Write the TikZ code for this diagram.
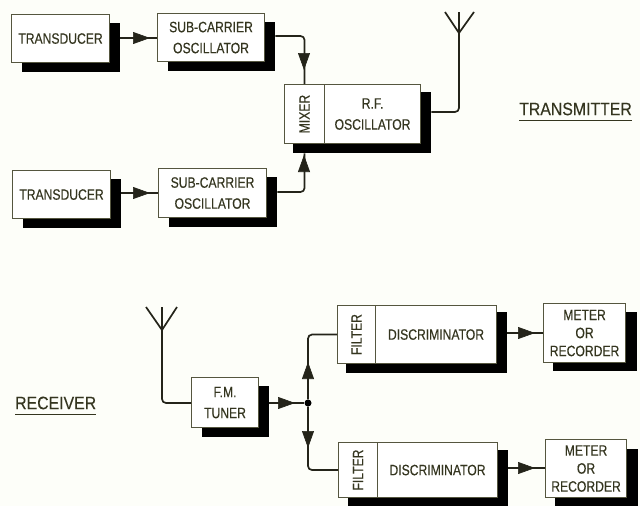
\documentclass[tikz,border=0pt]{standalone}
\usepackage{fontspec}
\setmainfont[FakeStretch=0.81,FakeBold=0.35]{Liberation Sans}
\newfontfamily\titlefont[FakeStretch=0.88,FakeBold=0.2]{Liberation Sans}
\usetikzlibrary{arrows.meta,calc}
\definecolor{paper}{HTML}{FDFEF9}
\definecolor{edge}{HTML}{55563F}
\definecolor{ink}{HTML}{34351F}
\definecolor{wire}{HTML}{24241A}
\tikzset{
  blockbox/.style={draw=edge,line width=1.1pt,fill=white,inner sep=0pt,align=center,text=ink,font=\fontsize{15}{21}\selectfont},
  shadowbox/.style={fill=black,draw=none,inner sep=0pt},
  conn/.style={draw=wire,line width=1.7pt,rounded corners=4pt},
  headonly/.style={draw=wire,line width=0.6pt,-{Triangle[length=17pt,width=12pt]}},
  antenna/.style={draw=wire,line width=1.7pt,line join=miter},
  title/.style={text=ink,inner sep=0pt,font=\titlefont\fontsize{18}{20}\selectfont},
  rule/.style={draw=ink,line width=1pt},
  junction/.style={circle,fill=black,inner sep=0pt,minimum size=7pt}
}
% name, x1,y1,x2,y2, text
\newcommand{\blk}[6]{%
  \node[shadowbox,minimum width=#4pt-#2pt,minimum height=#5pt-#3pt+1pt,anchor=north west] (#1s) at (#2+11,#3+9) {};
  \node[blockbox,minimum width=#4pt-#2pt,minimum height=#5pt-#3pt,anchor=north west] (#1) at (#2,#3) {#6};
}
% arrowhead whose tip is at the point given, running from the base given
\newcommand{\hd}[2]{\draw[headonly] (#1) -- (#2);}
\begin{document}
\begin{tikzpicture}[x=1pt,y=-1pt]
\useasboundingbox[fill=paper] (0,0) rectangle (640,506);
% transmitter
\blk{ta}{11}{14}{109}{62}{TRANSDUCER}
\blk{sa}{157}{13}{264}{61}{SUB-CARRIER\\OSCILLATOR}
\blk{tb}{12}{170}{110}{218}{TRANSDUCER}
\blk{sb}{158}{168}{266}{217}{SUB-CARRIER\\OSCILLATOR}
\node[shadowbox,minimum width=138pt,minimum height=61pt,anchor=north west] (rfs) at (293,92) {};
\node[blockbox,minimum width=40pt,minimum height=59pt,anchor=north west] (mix) at (284,84) {\rotatebox{90}{MIXER}};
\node[blockbox,minimum width=96pt,minimum height=59pt,anchor=north west] (rf) at (324,84) {R.F.\\OSCILLATOR};
\coordinate (h1) at (150,38);
\coordinate (b1) at (132,38);
\draw[conn] (tas.east |- h1) -- (sa.west |- h1);
\hd{b1}{h1}
\coordinate (h2) at (150,193);
\coordinate (b2) at (132,193);
\draw[conn] (tbs.east |- h2) -- (sb.west |- h2);
\hd{b2}{h2}
\coordinate (h3) at (304,70);
\coordinate (b3) at (304,52);
\draw[conn] (sas.east |- 0,36) -| (mix.north);
\hd{b3}{h3}
\coordinate (h4) at (304,155);
\coordinate (b4) at (304,173);
\draw[conn] (sbs.east |- 0,192) -| (rfs.south -| mix.south);
\hd{b4}{h4}
\coordinate (ant) at (459,33);
\coordinate (antl) at (445,12);
\coordinate (antr) at (474,12);
\coordinate (antt) at (459,12);
\draw[antenna] (antl) -- (ant) -- (antr);
\draw[antenna] (antt) -- (ant);
\draw[conn] (ant) |- (rfs.east |- 0,112);
\node[title,anchor=west] (txl) at (519,109) {TRANSMITTER};
\draw[rule] (txl.west |- 0,120) -- (txl.east |- 0,120);
% receiver
\blk{fm}{191}{377}{258}{427}{F.M.\\TUNER}
\node[shadowbox,minimum width=161pt,minimum height=61pt,anchor=north west] (das) at (346,312) {};
\node[blockbox,minimum width=38pt,minimum height=58pt,anchor=north west] (fa) at (337,305) {\rotatebox{90}{FILTER}};
\node[blockbox,minimum width=121pt,minimum height=58pt,anchor=north west] (da) at (375,305) {DISCRIMINATOR};
\node[shadowbox,minimum width=160pt,minimum height=56pt,anchor=north west] (dbs) at (348,450) {};
\node[blockbox,minimum width=39pt,minimum height=55pt,anchor=north west] (fb) at (338,442) {\rotatebox{90}{FILTER}};
\node[blockbox,minimum width=120pt,minimum height=55pt,anchor=north west] (db) at (377,442) {DISCRIMINATOR};
\tikzset{blockbox/.append style={font=\fontsize{15}{18}\selectfont}}
\node[shadowbox,minimum width=84pt,minimum height=59pt,anchor=north west] (mas) at (553,312) {};
\node[blockbox,minimum width=82pt,minimum height=59pt,anchor=north west] (ma) at (543,303) {METER\\OR\\RECORDER};
\node[shadowbox,minimum width=83pt,minimum height=57pt,anchor=north west] (mbs) at (555,449) {};
\node[blockbox,minimum width=81pt,minimum height=58pt,anchor=north west] (mb) at (545,439) {METER\\OR\\RECORDER};
\coordinate (antb) at (162,330);
\coordinate (antbl) at (146,307);
\coordinate (antbr) at (177,307);
\coordinate (antbt) at (162,307);
\draw[antenna] (antbl) -- (antb) -- (antbr);
\draw[antenna] (antbt) -- (antb);
\draw[conn] (antb) |- (fm.west |- 0,403);
\node[junction] (dot) at (308,403) {};
\coordinate (h5) at (295,403);
\coordinate (b5) at (277,403);
\draw[conn] (fms.east |- h5) -- (dot);
\hd{b5}{h5}
\coordinate (h6) at (308,362);
\coordinate (b6) at (308,380);
\draw[conn] (dot) |- (fa.west);
\hd{b6}{h6}
\coordinate (h7) at (308,448);
\coordinate (b7) at (308,430);
\draw[conn] (dot) |- (fb.west |- 0,470);
\hd{b7}{h7}
\coordinate (h8) at (535,333);
\coordinate (b8) at (517,333);
\draw[conn] (das.east |- h8) -- (ma.west |- h8);
\hd{b8}{h8}
\coordinate (h9) at (535,468);
\coordinate (b9) at (517,468);
\draw[conn] (dbs.east |- h9) -- (mb.west |- h9);
\hd{b9}{h9}
\node[title,anchor=west] (rxl) at (15,403) {RECEIVER};
\draw[rule] (rxl.west |- 0,414) -- (rxl.east |- 0,414);
\end{tikzpicture}
\end{document}
